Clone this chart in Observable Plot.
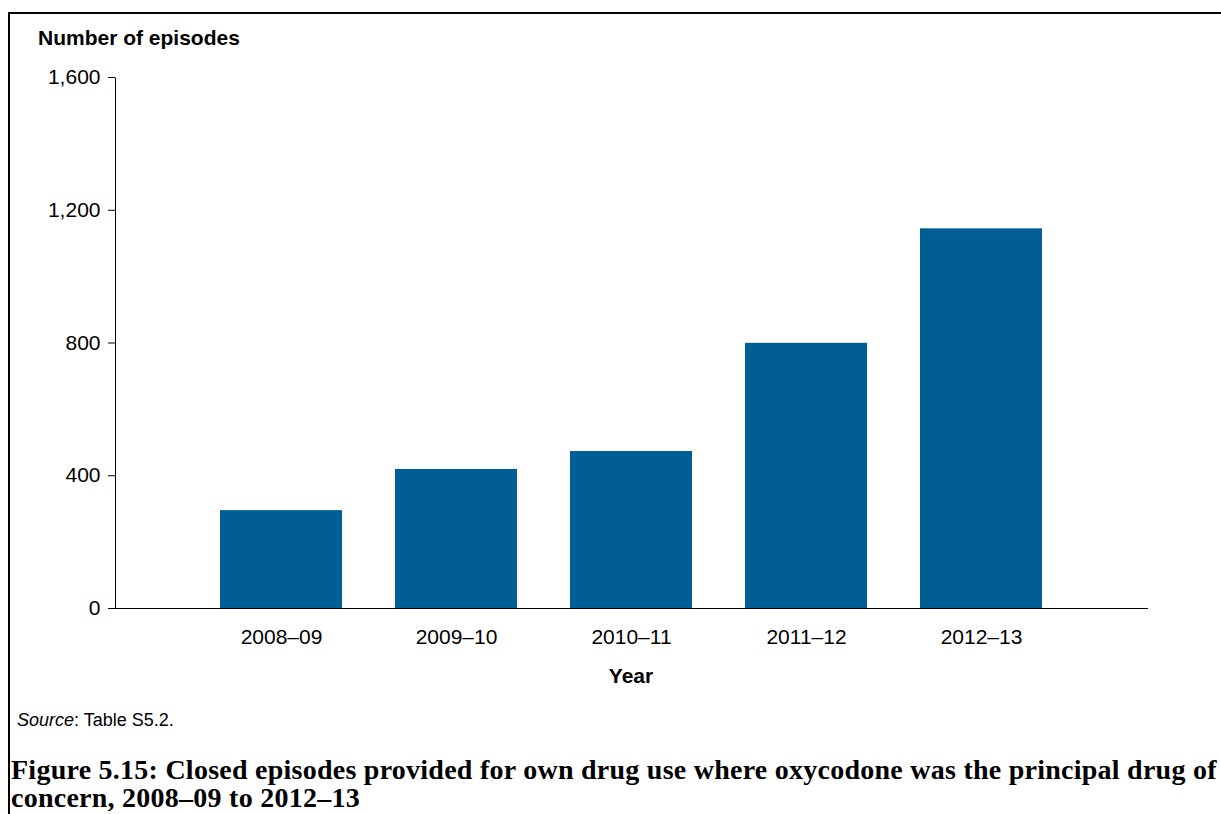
<!DOCTYPE html>
<html>
<head>
<meta charset="utf-8">
<script src="https://cdn.jsdelivr.net/npm/d3@7"></script>
<script src="https://cdn.jsdelivr.net/npm/@observablehq/plot@0.6"></script>
<style>
  html, body { margin: 0; padding: 0; background: #fff; width: 1221px; height: 814px; overflow: hidden; }
  #page { position: relative; width: 1221px; height: 814px; overflow: hidden; font-family: "Liberation Sans", Arial, sans-serif; color: #000; }
  #frame { position: absolute; left: 8px; top: 12px; width: 1300px; height: 900px; border-left: 2px solid #000; border-top: 2px solid #000; }
  #chart { position: absolute; left: 0; top: 0; }
  .ylabel { position: absolute; left: 38px; top: 25px; font-weight: bold; font-size: 21px; line-height: 26px; white-space: nowrap; }
  .xlabel { position: absolute; left: 531px; width: 200px; text-align: center; top: 663px; font-weight: bold; font-size: 21px; line-height: 26px; }
  .source { position: absolute; left: 17px; top: 709px; font-size: 18px; line-height: 22px; white-space: nowrap; }
  .title { position: absolute; left: 11px; top: 756px; font-family: "Liberation Serif", "DejaVu Serif", serif; font-weight: bold; font-size: 28px; letter-spacing: 0.25px; line-height: 28px; white-space: nowrap; }
</style>
</head>
<body>
<div id="page">
  <div id="frame"></div>
  <div id="chart"></div>
  <div class="ylabel">Number of episodes</div>
  <div class="xlabel">Year</div>
  <div class="source"><i>Source</i>: Table S5.2.</div>
  <div class="title">Figure 5.15: Closed episodes provided for own drug use where oxycodone was the principal drug of<br>concern, 2008–09 to 2012–13</div>
</div>
<script>
const years = ["2008–09", "2009–10", "2010–11", "2011–12", "2012–13"];
const episodes = [295, 419, 473, 799, 1144];
const yTicks = [0, 400, 800, 1200, 1600];

const data = years.map((year, i) => ({year, value: episodes[i]}));

const yAxisLine = (index, scales, values, dimensions) => {
  const x = dimensions.marginLeft + 0.5;
  return d3.create("svg:line")
    .attr("x1", x).attr("x2", x)
    .attr("y1", scales.y(0) + 0.5).attr("y2", scales.y(yTicks[yTicks.length - 1]) + 0.5)
    .attr("stroke", "#000")
    .node();
};

const chart = Plot.plot({
  width: 1221,
  height: 700,
  marginLeft: 115,
  marginRight: 73,
  marginTop: 77,
  marginBottom: 92,
  style: {fontFamily: "'Liberation Sans', Arial, sans-serif", fontSize: "21px", color: "#000", background: "transparent"},
  x: {domain: years, paddingInner: 0.3, paddingOuter: 0.6, tickSize: 0, tickPadding: 21, label: null},
  y: {domain: [0, 1600], ticks: yTicks, tickFormat: d3.format(","), tickSize: 7, tickPadding: 8, label: null},
  marks: [
    Plot.barY(data, {x: "year", y: "value", fill: "#015e95"}),
    Plot.ruleY([0], {stroke: "#000"}),
    yAxisLine
  ]
});
document.getElementById("chart").appendChild(chart);
</script>
</body>
</html>
